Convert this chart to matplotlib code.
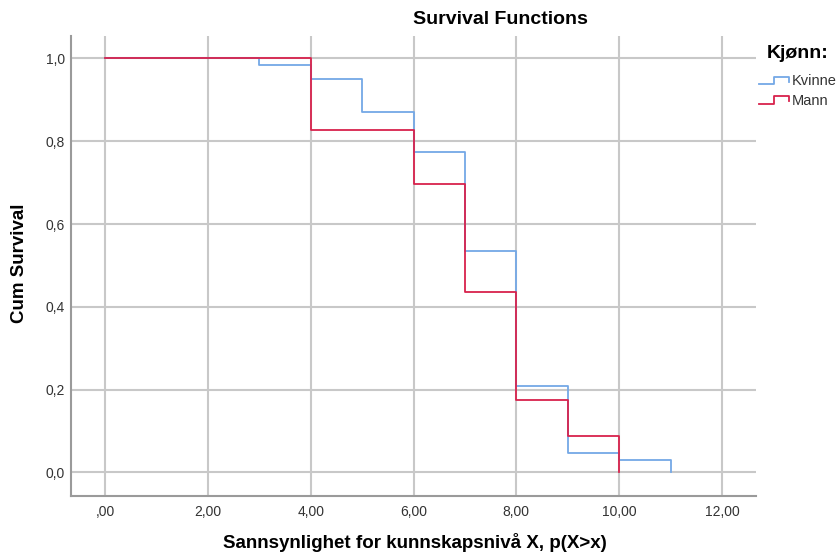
import matplotlib.pyplot as plt
from matplotlib.lines import Line2D
from matplotlib.legend_handler import HandlerBase

# survival step data
kvinne_t = [0, 3, 4, 5, 6, 7, 8, 9, 10, 11]
kvinne_s = [1.0, 0.984, 0.951, 0.871, 0.774, 0.534, 0.209, 0.048, 0.031, 0.0]
mann_t = [0, 4, 6, 7, 8, 9, 10]
mann_s = [1.0, 0.826, 0.696, 0.435, 0.174, 0.087, 0.0]

xticks = [0, 2, 4, 6, 8, 10, 12]
xtick_labels = [',00', '2,00', '4,00', '6,00', '8,00', '10,00', '12,00']
yticks = [0.0, 0.2, 0.4, 0.6, 0.8, 1.0]
ytick_labels = ['0,0', '0,2', '0,4', '0,6', '0,8', '1,0']

blue = '#74a8e6'
red = '#d8224c'

plt.rcParams['font.family'] = ['Liberation Sans', 'DejaVu Sans']


# small step-shaped legend icon, like SPSS draws
class StepHandler(HandlerBase):
    def create_artists(self, legend, orig, xd, yd, width, height, fontsize, trans):
        x0 = -xd
        xs = [x0, x0 + width * 0.5, x0 + width * 0.5, x0 + width, x0 + width]
        ys = [0.1 * height, 0.1 * height, 0.85 * height, 0.85 * height, 0.35 * height]
        line = Line2D(xs, ys, color=orig.get_color(), lw=orig.get_linewidth(),
                      transform=trans)
        return [line]


fig = plt.figure(figsize=(8.38, 5.52), dpi=100)
ax = fig.add_axes([0.0844, 0.1014, 0.8176, 0.834])

ax.step(kvinne_t, kvinne_s, where='post', color=blue, lw=1.3, zorder=3)
ax.step(mann_t, mann_s, where='post', color=red, lw=1.3, zorder=4)

ax.set_xlim(-0.67, 12.66)
ax.set_ylim(-0.057, 1.055)
ax.set_xticks(xticks)
ax.set_xticklabels(xtick_labels)
ax.set_yticks(yticks)
ax.set_yticklabels(ytick_labels)
ax.tick_params(length=0, labelsize=10, colors='#333333')
ax.tick_params(axis='x', pad=6.5)
ax.tick_params(axis='y', pad=4)

ax.grid(True, color='#c8c8c8', lw=1.5, zorder=0)
ax.set_axisbelow(True)
for s in ['top', 'right']:
    ax.spines[s].set_visible(False)
for s in ['left', 'bottom']:
    ax.spines[s].set_color('#9a9a9a')
    ax.spines[s].set_linewidth(1.5)

fig.text(500 / 838, 1 - 20 / 552, 'Survival Functions', ha='center', va='center',
         fontsize=14, fontweight='bold')
fig.text(415 / 838, 1 - 542 / 552, 'Sannsynlighet for kunnskapsnivå X, p(X>x)',
         ha='center', va='center', fontsize=13.5, fontweight='bold')
fig.text(20 / 838, 1 - 263 / 552, 'Cum Survival', ha='center', va='center',
         rotation=90, fontsize=13.5, fontweight='bold')

# legend title and entries
fig.text(767 / 838, 1 - 53 / 552, 'Kjønn:', ha='left', va='center',
         fontsize=14, fontweight='bold')
handles = [Line2D([], [], color=blue, lw=1.3), Line2D([], [], color=red, lw=1.3)]
leg = fig.legend(handles, ['Kvinne', 'Mann'], loc='center left',
                 bbox_to_anchor=(759 / 838, 1 - 91 / 552), frameon=False,
                 fontsize=10.5, handlelength=2.05, handletextpad=0.2,
                 labelspacing=0.35, borderpad=0, borderaxespad=0,
                 handler_map={Line2D: StepHandler()})
for t in leg.get_texts():
    t.set_color('#333333')

fig.savefig('out.png', dpi=100)
